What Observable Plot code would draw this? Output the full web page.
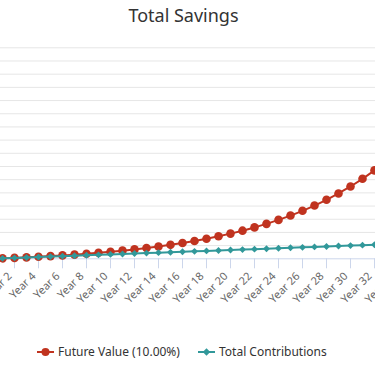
<!DOCTYPE html>
<html>
<head>
<meta charset="utf-8">
<script src="https://cdn.jsdelivr.net/npm/d3@7"></script>
<script src="https://cdn.jsdelivr.net/npm/@observablehq/plot@0.6"></script>
<style>
  html, body { margin: 0; padding: 0; background: #fff; overflow: hidden; width: 375px; height: 366px; }
  body { position: relative; font-family: "Noto Sans", sans-serif; }
  #title { position: absolute; left: 0; top: 6px; width: 367px; text-align: center; font-size: 18px; line-height: 18px; color: #333; }
  #chart { position: absolute; left: 0; top: 32px; }
  #chart svg { overflow: hidden; display: block; }
  .leg { position: absolute; top: 344px; height: 16px; line-height: 16px; font-size: 12px; color: #333; display: flex; align-items: center; white-space: nowrap; }
  .leg svg { margin-right: 4px; display: block; }
</style>
</head>
<body>
<div id="title">Total Savings</div>
<div id="chart"></div>
<div class="leg" style="left:37px">
  <svg width="17" height="16"><line x1="0" y1="8" x2="17" y2="8" stroke="#c0331f" stroke-width="2"/><circle cx="8.5" cy="8" r="4" fill="#c0331f"/></svg>
  <span id="leg1"></span>
</div>
<div class="leg" style="left:198px">
  <svg width="17" height="16"><line x1="0" y1="8" x2="17" y2="8" stroke="#31989a" stroke-width="2"/><polygon points="8.5,4.3 12.2,8 8.5,11.7 4.8,8" fill="#31989a"/></svg>
  <span id="leg2"></span>
</div>
<script>
// ---- data ----
const seriesNames = ["Future Value (10.00%)", "Total Contributions"];
const years = [1, 2, 3, 4, 5, 6, 7, 8, 9, 10, 11, 12, 13, 14, 15, 16, 17, 18, 19, 20,
               21, 22, 23, 24, 25, 26, 27, 28, 29, 30, 31, 32, 33];
const futureValue = [5000, 10500, 16500, 23200, 30500, 38600, 47400, 57200, 67900, 79700,
                     92700, 106900, 122600, 139900, 158900, 179700, 202700, 228000, 255800, 286400,
                     320000, 357000, 397700, 442500, 491700, 545900, 605500, 671000, 743200, 822500,
                     909700, 1005700, 1111300];
const totalContributions = [5000, 10000, 15000, 20000, 25000, 30000, 35000, 40000, 45000, 50000,
                            55000, 60000, 65000, 70000, 75000, 80000, 85000, 90000, 95000, 100000,
                            105000, 110000, 115000, 120000, 125000, 130000, 135000, 140000, 145000, 150000,
                            155000, 160000, 165000];
const tickYears = [2, 4, 6, 8, 10, 12, 14, 16, 18, 20, 22, 24, 26, 28, 30, 32, 34];
const yGridValues = [150000, 300000, 450000, 600000, 750000, 900000, 1050000, 1200000,
                     1350000, 1500000, 1650000, 1800000, 1950000, 2100000, 2250000, 2400000];

const red = "#c0331f";
const teal = "#31989a";

const fvData = years.map((y, i) => ({year: y, value: futureValue[i]}));
const tcData = years.map((y, i) => ({year: y, value: totalContributions[i]}));

document.getElementById("leg1").textContent = seriesNames[0];
document.getElementById("leg2").textContent = seriesNames[1];

const chart = Plot.plot({
  width: 375,
  height: 278,
  marginTop: 15.3,
  marginBottom: 51.7,
  marginLeft: 2,
  marginRight: 1,
  x: {type: "linear", domain: [1, 32], axis: null},
  y: {domain: [0, 2400000], axis: null},
  style: {fontFamily: '"Noto Sans", sans-serif', overflow: "hidden", background: "white"},
  marks: [
    Plot.gridY(yGridValues, {stroke: "#e6e6e6", strokeOpacity: 1, insetLeft: -2, insetRight: -1}),
    Plot.ruleY([0], {stroke: "#ccd6eb", insetLeft: -2, insetRight: -1}),
    Plot.ruleX(tickYears, {x: d => d, y1: 0, y2: 0, insetBottom: -10, stroke: "#ccd6eb"}),
    Plot.text(tickYears, {
      x: d => d, text: d => `Year ${d}`, frameAnchor: "bottom",
      dx: -2, dy: 18, rotate: -45, textAnchor: "end", lineAnchor: "bottom",
      fontSize: 11, fill: "#666"
    }),
    Plot.line(fvData, {x: "year", y: "value", stroke: red, strokeWidth: 2}),
    Plot.dot(fvData, {x: "year", y: "value", r: 4.3, fill: red, symbol: "circle"}),
    Plot.line(tcData, {x: "year", y: "value", stroke: teal, strokeWidth: 2}),
    Plot.dot(tcData, {x: "year", y: "value", r: 3.1, fill: teal, symbol: "diamond2"})
  ]
});
document.getElementById("chart").appendChild(chart);
</script>
</body>
</html>
